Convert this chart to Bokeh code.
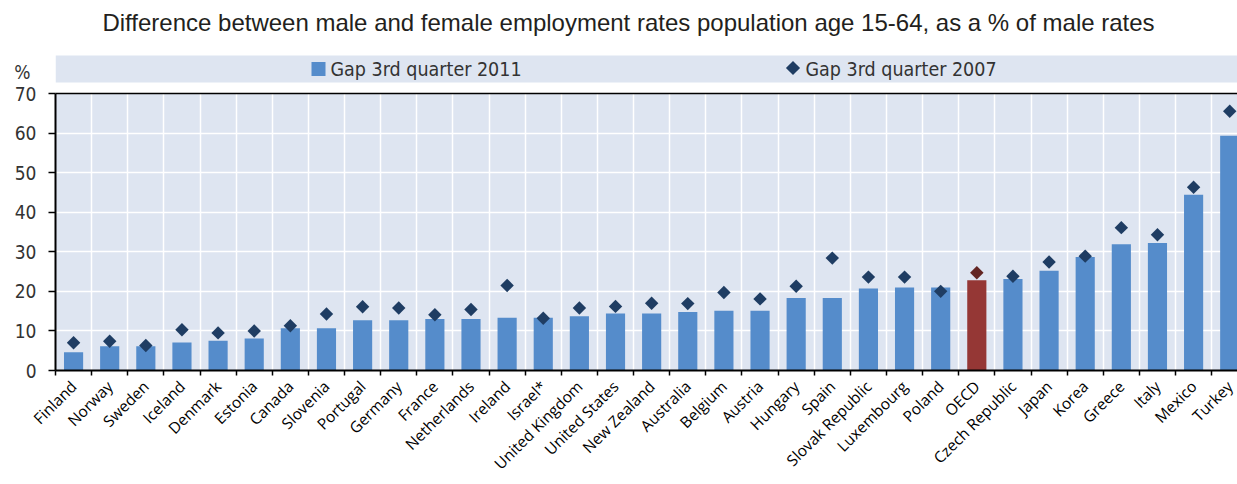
import numpy as np
from bokeh.plotting import figure
from bokeh.models import ColumnDataSource, FixedTicker, LinearAxis, Range1d
from bokeh.layouts import column
from bokeh.embed import file_html
from bokeh.resources import INLINE
from bokeh.core.properties import value

# ---------------- data ----------------
countries = ["Finland", "Norway", "Sweden", "Iceland", "Denmark", "Estonia", "Canada",
             "Slovenia", "Portugal", "Germany", "France", "Netherlands", "Ireland", "Israel*",
             "United Kingdom", "United States", "New Zealand", "Australia", "Belgium", "Austria",
             "Hungary", "Spain", "Slovak Republic", "Luxembourg", "Poland", "OECD",
             "Czech Republic", "Japan", "Korea", "Greece", "Italy", "Mexico", "Turkey"]
gap_2011 = [4.6, 6.1, 6.1, 7.1, 7.5, 8.1, 10.7, 10.7, 12.7, 12.7, 13.0, 13.0, 13.3, 13.3,
            13.7, 14.4, 14.4, 14.8, 15.1, 15.1, 18.3, 18.3, 20.7, 21.0, 21.0, 22.8,
            23.1, 25.2, 28.7, 31.9, 32.2, 44.4, 59.3]
gap_2007 = [7.0, 7.4, 6.3, 10.3, 9.5, 10.0, 11.3, 14.3, 16.1, 15.8, 14.1, 15.4, 21.5, 13.2,
            15.8, 16.2, 17.0, 16.9, 19.7, 18.1, 21.3, 28.4, 23.6, 23.6, 20.0, 24.7,
            23.8, 27.4, 28.9, 36.1, 34.3, 46.3, 65.5]
highlight = "OECD"
y_ticks = [0, 10, 20, 30, 40, 50, 60, 70]
title_text = "Difference between male and female employment rates population age 15-64, as a % of male rates"
legend_labels = ["Gap 3rd quarter 2011", "Gap 3rd quarter 2007"]
y_unit = "%"

# ---------------- styles ----------------
BAR = "#558CCB"
BAR_HI = "#953735"
DIA = "#1F3D63"
DIA_HI = "#632523"
BG = "#DEE5F1"
NARROW = "DejaVu Sans Condensed"
W = 1237
TOP_H = 84
TOTAL_H = 484
CAT_PX = 36.13
LEFT = 55

n = len(countries)
xs = list(range(n))
src = ColumnDataSource(dict(
    x=xs, name=countries, g11=gap_2011, g07=gap_2007,
    bc=[BAR_HI if c == highlight else BAR for c in countries],
    dc=[DIA_HI if c == highlight else DIA for c in countries],
))

# ---------------- top strip: title + legend band (data units = page pixels) ----------------
top = figure(width=W, height=TOP_H, x_range=Range1d(LEFT, W), y_range=Range1d(0, TOP_H),
             toolbar_location=None, output_backend="svg",
             min_border_left=LEFT, min_border_right=0, min_border_top=0, min_border_bottom=0,
             x_axis_location=None, outline_line_color=None)
top.grid.visible = False
ta = top.yaxis[0]
ta.ticker = FixedTicker(ticks=[9])
ta.major_label_overrides = {9: y_unit}
ta.axis_line_color = None
ta.major_tick_line_color = None
ta.minor_tick_line_color = None
ta.major_tick_out = 0
ta.major_label_standoff = 25
ta.major_label_text_font = NARROW
ta.major_label_text_font_size = "19px"
ta.major_label_text_color = "#333333"

top.text(x=[628], y=[62], text=[title_text], text_font=value("Liberation Sans"),
         text_font_size="24px", text_color="#231F20", text_align="center",
         text_baseline="middle")
top.quad(left=[LEFT], right=[W], bottom=[2], top=[29], fill_color=BG, line_color=None)
top.scatter(x=[318], y=[15.5], marker="square", size=14, fill_color=BAR, line_color=None)
top.text(x=[330], y=[15.5], text=[legend_labels[0]], text_font=value(NARROW),
         text_font_size="19.5px", text_color="#333333", text_align="left",
         text_baseline="middle")
top.scatter(x=[792.5], y=[16.5], marker="square", angle=np.pi / 4, size=10,
            fill_color=DIA, line_color=None)
top.text(x=[805], y=[15.5], text=[legend_labels[1]], text_font=value(NARROW),
         text_font_size="19.5px", text_color="#333333", text_align="left",
         text_baseline="middle")

# ---------------- main chart ----------------
frame_w = W - LEFT
p = figure(width=W, height=TOTAL_H - TOP_H,
           x_range=Range1d(-0.5, -0.5 + frame_w / CAT_PX), y_range=Range1d(0, 70),
           toolbar_location=None, output_backend="svg",
           min_border_left=LEFT, min_border_right=0, min_border_top=9, min_border_bottom=0,
           background_fill_color=BG, outline_line_color=None)

p.vbar(x="x", top="g11", width=0.53, fill_color="bc", line_color=None, source=src)
p.scatter(x="x", y="g07", marker="square", angle=np.pi / 4, size=9.5,
          fill_color="dc", line_color=None, source=src)

bounds = [i - 0.5 for i in range(n + 1)]
xa = p.xaxis[0]
xa.ticker = FixedTicker(ticks=xs, minor_ticks=bounds)
xa.major_label_overrides = {i: c for i, c in enumerate(countries)}
xa.major_label_orientation = np.pi / 4
xa.major_tick_out = 0
xa.major_tick_in = 0
xa.minor_tick_out = 5
xa.minor_tick_in = 0
xa.minor_tick_line_color = "black"
xa.minor_tick_line_width = 1.5
xa.axis_line_color = "black"
xa.axis_line_width = 2
xa.major_label_text_font = "Open Sans"
xa.major_label_text_font_size = "15.5px"
xa.major_label_text_color = "black"
xa.major_label_standoff = 8

ya = p.yaxis[0]
ya.ticker = FixedTicker(ticks=y_ticks)
ya.major_tick_out = 7
ya.major_tick_in = 0
ya.minor_tick_out = 0
ya.minor_tick_in = 0
ya.major_tick_line_color = "black"
ya.major_tick_line_width = 1.5
ya.axis_line_color = "black"
ya.axis_line_width = 2
ya.major_label_text_font = NARROW
ya.major_label_text_font_size = "19px"
ya.major_label_text_color = "#333333"
ya.major_label_standoff = 12

top_axis = LinearAxis(ticker=FixedTicker(ticks=[]), major_label_text_font_size="0px",
                      major_tick_out=0, major_tick_in=0, minor_tick_out=0, minor_tick_in=0,
                      axis_line_color="black", axis_line_width=1.5)
p.add_layout(top_axis, "above")

p.ygrid.ticker = FixedTicker(ticks=y_ticks)
p.ygrid.grid_line_color = "white"
p.ygrid.grid_line_width = 1.5
p.xgrid.ticker = FixedTicker(ticks=bounds)
p.xgrid.grid_line_color = "white"
p.xgrid.grid_line_width = 1.5

layout = column(top, p, spacing=0)
open("out.html", "w").write(file_html(layout, INLINE))
